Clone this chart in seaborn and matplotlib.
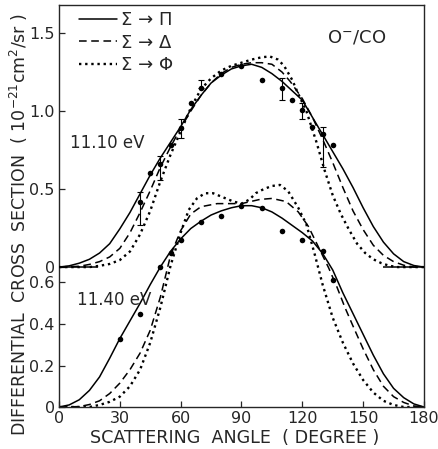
import numpy as np
import pandas as pd
import seaborn as sns
import matplotlib.pyplot as plt

# ---- data ----
# 11.10 eV (upper curves), theory curves
top_pi_x = [0, 5, 10, 15, 20, 25, 30, 35, 40, 45, 50, 55, 60, 65, 70, 75, 80, 85, 90, 95, 100, 105, 110, 115, 120, 125, 130, 135, 140, 145, 150, 155, 160, 165, 170, 175, 180]
top_pi_y = [0, 0.008, 0.025, 0.05, 0.09, 0.15, 0.245, 0.35, 0.47, 0.59, 0.70, 0.80, 0.90, 1.01, 1.10, 1.18, 1.23, 1.27, 1.29, 1.30, 1.28, 1.24, 1.19, 1.13, 1.07, 0.96, 0.85, 0.74, 0.63, 0.51, 0.38, 0.26, 0.16, 0.085, 0.035, 0.01, 0]
top_de_x = [0, 10, 15, 20, 25, 30, 35, 40, 45, 50, 55, 60, 65, 70, 75, 80, 85, 90, 95, 100, 105, 110, 114, 120, 125, 130, 135, 140, 145, 150, 155, 160, 165, 170, 175, 180]
top_de_y = [0, 0.005, 0.017, 0.035, 0.065, 0.12, 0.22, 0.35, 0.49, 0.64, 0.77, 0.89, 1.00, 1.10, 1.18, 1.24, 1.28, 1.30, 1.31, 1.31, 1.30, 1.25, 1.19, 1.08, 0.96, 0.82, 0.67, 0.51, 0.36, 0.24, 0.14, 0.075, 0.035, 0.012, 0, 0]
top_ph_x = [0, 15, 20, 25, 30, 35, 40, 45, 50, 55, 60, 65, 70, 75, 80, 85, 90, 95, 100, 104, 108, 111, 115, 118, 122, 127, 131, 135, 139, 143, 147, 151, 155, 159, 163, 167, 180]
top_ph_y = [0, 0, 0.008, 0.02, 0.045, 0.10, 0.21, 0.36, 0.55, 0.72, 0.87, 1.02, 1.14, 1.21, 1.26, 1.29, 1.31, 1.33, 1.345, 1.35, 1.33, 1.29, 1.20, 1.11, 1.00, 0.80, 0.62, 0.46, 0.34, 0.24, 0.15, 0.09, 0.05, 0.025, 0.008, 0, 0]
# 11.10 eV measured points
top_pts_x = [40, 45, 50, 55, 60, 65, 70, 80, 90, 100, 110, 115, 120, 125, 130, 135]
top_pts_y = [0.42, 0.60, 0.66, 0.78, 0.89, 1.05, 1.15, 1.24, 1.29, 1.20, 1.15, 1.07, 1.01, 0.90, 0.85, 0.78]
# error bars (angle, value, lower, upper)
err_x = [40, 50, 60, 70, 110, 120, 130]
err_y = [0.42, 0.66, 0.89, 1.15, 1.15, 1.01, 0.85]
err_lo = [0.15, 0.10, 0.06, 0.0, 0.08, 0.06, 0.21]
err_hi = [0.06, 0.05, 0.06, 0.05, 0.06, 0.04, 0.05]
zero_marks = [(0, 19), (160, 180)]

# 11.40 eV (lower curves)
bot_pi_x = [0, 5, 10, 15, 20, 25, 30, 35, 40, 45, 50, 55, 60, 65, 70, 75, 80, 85, 90, 95, 100, 105, 110, 115, 120, 125, 130, 135, 140, 145, 150, 155, 160, 165, 170, 175, 180]
bot_pi_y = [0, 0.01, 0.035, 0.08, 0.145, 0.235, 0.33, 0.415, 0.50, 0.59, 0.675, 0.75, 0.81, 0.86, 0.895, 0.925, 0.945, 0.96, 0.97, 0.97, 0.96, 0.94, 0.91, 0.875, 0.84, 0.80, 0.74, 0.66, 0.55, 0.45, 0.35, 0.25, 0.16, 0.09, 0.045, 0.015, 0]
bot_de_x = [0, 10, 15, 20, 25, 30, 35, 40, 45, 50, 55, 60, 65, 70, 78, 90, 99, 105, 112, 118, 123, 128, 133, 137, 141, 145, 150, 155, 160, 165, 170, 175, 180]
bot_de_y = [0, 0.002, 0.012, 0.03, 0.065, 0.115, 0.18, 0.26, 0.37, 0.53, 0.73, 0.85, 0.93, 0.965, 0.98, 0.98, 1.0, 1.005, 0.99, 0.94, 0.87, 0.77, 0.67, 0.58, 0.48, 0.39, 0.28, 0.18, 0.10, 0.05, 0.022, 0.005, 0]
bot_ph_x = [0, 15, 20, 25, 30, 35, 40, 45, 50, 55, 60, 64, 68, 72, 76, 81, 86, 90, 94, 97, 101, 105, 109, 113, 118, 122, 126, 130, 135, 140, 145, 150, 155, 160, 165, 170, 180]
bot_ph_y = [0, 0, 0.01, 0.025, 0.05, 0.10, 0.18, 0.31, 0.48, 0.68, 0.84, 0.95, 1.005, 1.03, 1.03, 1.01, 0.99, 0.98, 1.0, 1.03, 1.05, 1.065, 1.07, 1.04, 0.96, 0.88, 0.74, 0.59, 0.43, 0.31, 0.21, 0.13, 0.07, 0.03, 0.01, 0, 0]
bot_pts_x = [30, 40, 50, 55, 60, 70, 80, 90, 100, 110, 120, 130, 135]
bot_pts_y = [0.33, 0.45, 0.675, 0.74, 0.805, 0.89, 0.92, 0.97, 0.96, 0.85, 0.805, 0.75, 0.61]

labels = ['Σ → Π', 'Σ → Δ', 'Σ → Φ']
x_ticks = [0, 30, 60, 90, 120, 150, 180]
top_ticks = [0, 0.5, 1.0, 1.5]
bot_ticks = [0, 0.2, 0.4, 0.6]

# ---- styling ----
sns.set_style("ticks")
plt.rcParams['font.family'] = ['DejaVu Sans']
styles = [dict(linestyle='-', lw=1.1),
          dict(linestyle=(0, (5, 3)), lw=1.1),
          dict(linestyle=(0, (1, 1.6)), lw=1.7)]

fig = plt.figure(figsize=(4.38, 4.49), dpi=100)
rect = [0.1347, 0.0935, 0.8333, 0.8954]
ax_b = fig.add_axes(rect)
ax_t = fig.add_axes(rect, sharex=ax_b)
ax_t.patch.set_alpha(0)

# lower panel (11.40 eV)
for (xs, ys), st in zip([(bot_pi_x, bot_pi_y), (bot_de_x, bot_de_y), (bot_ph_x, bot_ph_y)], styles):
    sns.lineplot(x=xs, y=ys, ax=ax_b, color='k', **st)
sns.scatterplot(x=bot_pts_x, y=bot_pts_y, ax=ax_b, color='k', s=16, edgecolor='k', linewidth=0)

# upper panel (11.10 eV)
for (xs, ys), st, lab in zip([(top_pi_x, top_pi_y), (top_de_x, top_de_y), (top_ph_x, top_ph_y)], styles, labels):
    sns.lineplot(x=xs, y=ys, ax=ax_t, color='k', label=lab, **st)
sns.scatterplot(x=top_pts_x, y=top_pts_y, ax=ax_t, color='k', s=16, edgecolor='k', linewidth=0)
ax_t.errorbar(err_x, err_y, yerr=[err_lo, err_hi], fmt='none', ecolor='k', elinewidth=0.8, capsize=2, capthick=0.8)
for a, b in zero_marks:
    ax_t.hlines(0, a, b, color='k', lw=1.1)

# axes limits / ticks
ax_b.set_xlim(0, 180)
ax_b.set_ylim(0, 1.937)
ax_t.set_ylim(-0.897, 1.680)

ax_b.set_xticks(x_ticks)
ax_b.set_xticklabels([str(t) for t in x_ticks], fontsize=11.5)
ax_b.set_yticks(bot_ticks)
ax_b.set_yticklabels(['0', '0.2', '0.4', '0.6'], fontsize=11.5)
ax_b.tick_params(direction='in', length=4, width=0.9, pad=3)
for s in ax_b.spines.values():
    s.set_linewidth(1.0)

ax_t.set_yticks(top_ticks)
ax_t.set_yticklabels(['0', '0.5', '1.0', '1.5'], fontsize=11.5)
ax_t.tick_params(axis='y', direction='in', length=4, width=0.9, pad=3)
ax_t.tick_params(axis='x', bottom=False, labelbottom=False)
for s in ax_t.spines.values():
    s.set_visible(False)

ax_b.set_xlabel('SCATTERING  ANGLE  ( DEGREE )', fontsize=12.6)
ax_b.xaxis.set_label_coords(0.482, -0.055)
ax_b.set_ylabel('DIFFERENTIAL  CROSS  SECTION  ( 10$^{-21}$cm$^{2}$/sr )', fontsize=12.5)
ax_b.yaxis.set_label_coords(-0.079, 0.455)
ax_t.set_ylabel('')
ax_t.set_xlabel('')

ax_t.legend(loc='upper left', bbox_to_anchor=(0.055, 0.985), frameon=False,
            fontsize=13, handlelength=2.1, handletextpad=0.2, labelspacing=0.25,
            borderpad=0, borderaxespad=0)

ax_b.text(0.03, 0.657, '11.10 eV', transform=ax_b.transAxes, fontsize=12, va='center', ha='left')
ax_b.text(0.049, 0.266, '11.40 eV', transform=ax_b.transAxes, fontsize=12, va='center', ha='left')
ax_b.text(0.816, 0.918, 'O$^{-}$/CO', transform=ax_b.transAxes, fontsize=13, va='center', ha='center')

fig.savefig('out.png', dpi=100)
